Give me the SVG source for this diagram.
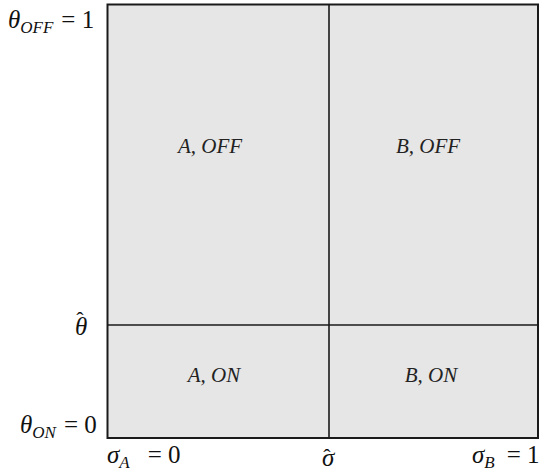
<svg xmlns="http://www.w3.org/2000/svg" width="544" height="473" viewBox="0 0 544 473">
<style>
.t{font-family:"Liberation Serif","DejaVu Serif",serif;font-size:25px;fill:#111}
.i{font-style:italic}
.s{font-size:17px;font-style:italic}
.hat{font-size:22px;font-style:normal}
.lbl{font-family:"Liberation Serif","DejaVu Serif",serif;font-size:21px;font-style:italic;fill:#222}
.frame{fill:#e6e6e6;stroke:#1a1a1a;stroke-width:2}
.div{stroke:#1a1a1a;stroke-width:1.6;fill:none}
</style>
<rect width="544" height="473" fill="#fff"/>
<g id="plane">
<rect class="frame" x="107.5" y="4.5" width="430.5" height="433.5"/>
</g>
<g id="connectors">
<line class="div" x1="329" y1="4.5" x2="329" y2="438"/>
<line class="div" x1="107.5" y1="325" x2="538" y2="325"/>
</g>
<g id="region-a-off"><text class="lbl" x="210" y="153" text-anchor="middle">A, OFF</text></g>
<g id="region-b-off"><text class="lbl" x="428" y="153" text-anchor="middle">B, OFF</text></g>
<g id="region-a-on"><text class="lbl" x="214" y="382" text-anchor="middle">A, ON</text></g>
<g id="region-b-on"><text class="lbl" x="431" y="382" text-anchor="middle">B, ON</text></g>
<g id="axis-labels">
<text class="t" x="8" y="28"><tspan class="i">θ</tspan><tspan class="s" dy="5">OFF</tspan><tspan dy="-5" dx="8">= 1</tspan></text>
<text class="t" x="75" y="335"><tspan class="i">θ</tspan><tspan class="hat" dx="-11" dy="-8">ˆ</tspan></text>
<text class="t" x="20" y="433"><tspan class="i">θ</tspan><tspan class="s" dy="5">ON</tspan><tspan dy="-5" dx="8">= 0</tspan></text>
<text class="t" x="107" y="463"><tspan class="i">σ</tspan><tspan class="s" dy="5">A</tspan><tspan dy="-5" dx="18">= 0</tspan></text>
<text class="t" x="322" y="466"><tspan class="i">σ</tspan><tspan class="hat" dx="-11" dy="-2">ˆ</tspan></text>
<text class="t" x="472" y="463"><tspan class="i">σ</tspan><tspan class="s" dy="5">B</tspan><tspan dy="-5" dx="12">= 1</tspan></text>
</g>
</svg>
